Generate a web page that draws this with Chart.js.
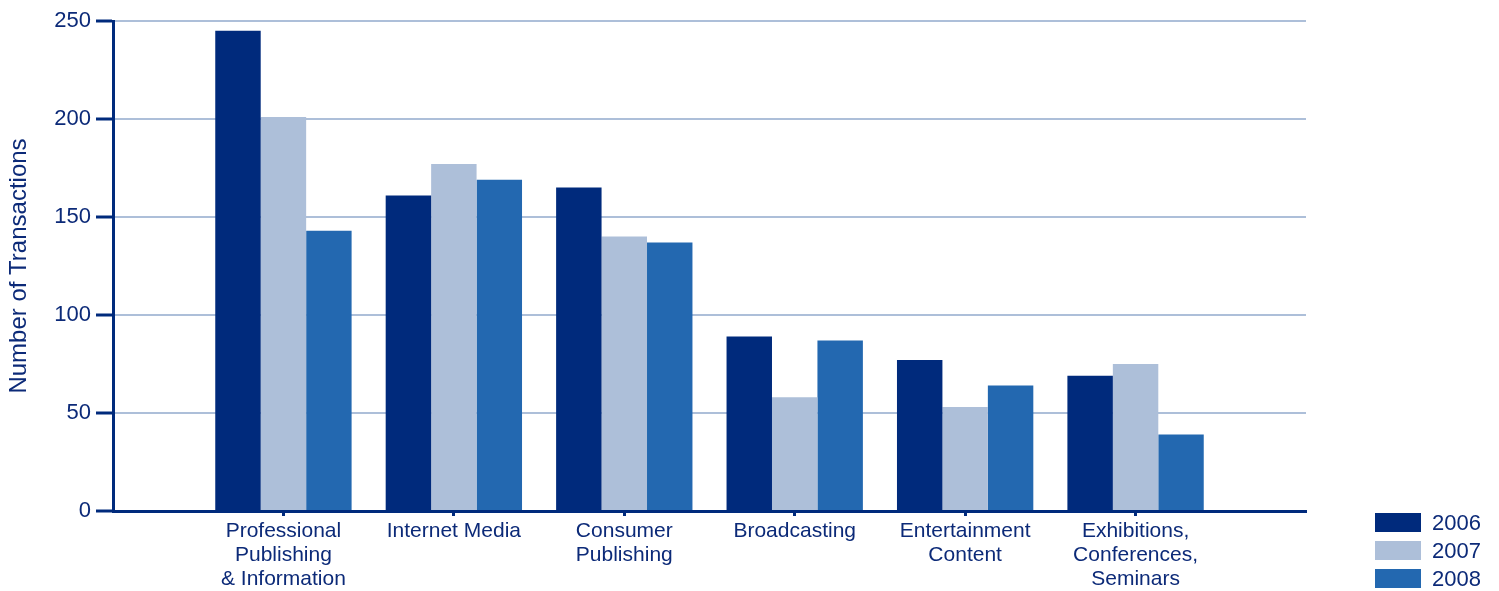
<!DOCTYPE html>
<html>
<head>
<meta charset="utf-8">
<script src="https://cdn.jsdelivr.net/npm/chart.js@4"></script>
<style>
body{margin:0;background:#fff;font-family:"Liberation Sans",Arial,sans-serif;}
#wrap{position:relative;width:1499px;height:591px;}
#legend{position:absolute;left:1375px;top:512px;color:#0c2a78;font-size:22px;}
.item{height:28px;display:flex;align-items:flex-start;}
.box{width:46px;height:19px;margin-right:11px;margin-top:1px;}
.item span{line-height:21px;}
</style>
</head>
<body>
<div id="wrap">
<canvas id="myChart" width="1499" height="591"></canvas>
<div id="legend"></div>
</div>
<script>
// categories and values
const categories = [
  ["Professional","Publishing","& Information"],
  "Internet Media",
  ["Consumer","Publishing"],
  "Broadcasting",
  ["Entertainment","Content"],
  ["Exhibitions,","Conferences,","Seminars"]
];
const years = ["2006","2007","2008"];
const values2006 = [245, 161, 165, 89, 77, 69];
const values2007 = [201, 177, 140, 58, 53, 75];
const values2008 = [143, 169, 137, 87, 64, 39];
const colors = ["#002a7c","#adbfd9","#2368b0"];
const yTicks = [0, 50, 100, 150, 200, 250];

const textColor = "#0c2a78";
const axisColor = "#002a7c";

// empty slot on each side so the groups sit half a slot in from the axis ends
const labels = [""].concat(categories, [""]);
function pad(arr){ return [null].concat(arr, [null]); }

const series = [values2006, values2007, values2008];
const datasets = years.map((y, i) => ({
  label: y,
  data: pad(series[i]),
  backgroundColor: colors[i],
  borderWidth: 0,
  categoryPercentage: 0.8,
  barPercentage: 1.0
}));

// html legend
const legend = document.getElementById("legend");
years.forEach((y, i) => {
  const d = document.createElement("div");
  d.className = "item";
  d.innerHTML = `<div class="box" style="background:${colors[i]}"></div><span>${y}</span>`;
  legend.appendChild(d);
});

const ctx = document.getElementById("myChart");
new Chart(ctx, {
  type: "bar",
  data: { labels: labels, datasets: datasets },
  options: {
    responsive: false,
    animation: false,
    layout: { padding: { top: 21, right: 193, left: 0, bottom: 0 } },
    plugins: { legend: { display: false }, tooltip: { enabled: false } },
    scales: {
      x: {
        offset: false,
        afterFit: s => { s.height = 80; },
        border: { color: axisColor, width: 3 },
        grid: {
          offset: false,
          drawOnChartArea: false,
          tickLength: 5,
          tickWidth: 3,
          tickColor: c => (c.index === 0 || c.index === labels.length - 1) ? "transparent" : axisColor
        },
        ticks: {
          autoSkip: false,
          maxRotation: 0,
          padding: 3,
          color: textColor,
          font: { family: "'Liberation Sans', Arial, sans-serif", size: 21, lineHeight: 1.15 }
        }
      },
      y: {
        min: 0,
        max: 250,
        afterFit: s => { s.width = 113; },
        afterBuildTicks: s => { s.ticks = yTicks.map(v => ({ value: v })); },
        border: { color: axisColor, width: 3 },
        grid: {
          color: "#adbfd9",
          lineWidth: 2,
          tickLength: 17,
          tickWidth: 3,
          tickColor: axisColor
        },
        ticks: {
          padding: 5,
          color: textColor,
          font: { family: "'Liberation Sans', Arial, sans-serif", size: 22 }
        },
        title: {
          display: true,
          text: "Number of Transactions",
          color: textColor,
          padding: { top: 5, bottom: 0 },
          font: { family: "'Liberation Sans', Arial, sans-serif", size: 24 }
        }
      }
    }
  }
});
</script>
</body>
</html>
